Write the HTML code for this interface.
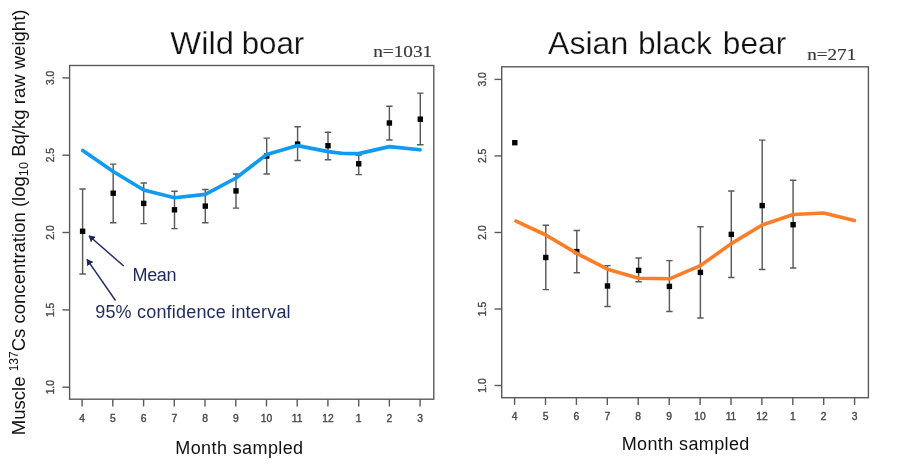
<!DOCTYPE html>
<html><head><meta charset="utf-8"><title>Cs-137 concentration by month</title>
<style>
html,body{margin:0;padding:0;background:#fff;}
body{width:900px;height:470px;overflow:hidden;}
svg{display:block;filter:blur(0.35px);font-family:"Liberation Sans",sans-serif;}
.tk{font-size:10.3px;fill:#464646;stroke:#464646;stroke-width:0.36px;}
.ttl{font-size:32px;fill:#111;stroke:#fff;stroke-width:0.25px;}
.n{font-family:"Liberation Serif",serif;font-size:16.6px;fill:#383838;stroke:#383838;stroke-width:0.15px;}
.ax{font-size:18px;fill:#111;}
.an{font-size:18px;fill:#1f2a5e;}
</style></head><body>
<svg width="900" height="470" viewBox="0 0 900 470">
<rect width="900" height="470" fill="#fff"/>
<defs><marker id="ah" viewBox="0 0 6.2 7.4" refX="5.7" refY="3.7" markerWidth="6.2" markerHeight="7.4" markerUnits="userSpaceOnUse" orient="auto"><path d="M0 0L6.2 3.7L0 7.4z" fill="#1c2660"/></marker></defs>

<!-- y label -->
<text transform="translate(24.8 435.2) rotate(-90)" font-size="18.55" fill="#111">Muscle <tspan font-size="12" dy="-7">137</tspan><tspan dy="7">Cs concentration (log</tspan><tspan font-size="12.8" dy="3.6">10</tspan><tspan dy="-3.6"> Bq/kg raw weight)</tspan></text>

<!-- plot 1 -->
<text y="53.5" class="ttl"><tspan x="170.3" textLength="63.7" lengthAdjust="spacingAndGlyphs">Wild</tspan> <tspan x="241.7" textLength="62.6" lengthAdjust="spacingAndGlyphs">boar</tspan></text>
<text x="373.2" y="57.3" class="n" textLength="59" lengthAdjust="spacingAndGlyphs">n=1031</text>
<rect x="69.6" y="65.5" width="364.2" height="333.7" fill="none" stroke="#5a5a5a" stroke-width="1.4"/>
<path d="M69.6 77.9h-7.2" stroke="#5a5a5a" stroke-width="1.4"/>
<text transform="translate(54.0 77.9) rotate(-90)" text-anchor="middle" class="tk">3.0</text>
<path d="M69.6 155.2h-7.2" stroke="#5a5a5a" stroke-width="1.4"/>
<text transform="translate(54.0 155.2) rotate(-90)" text-anchor="middle" class="tk">2.5</text>
<path d="M69.6 232.5h-7.2" stroke="#5a5a5a" stroke-width="1.4"/>
<text transform="translate(54.0 232.5) rotate(-90)" text-anchor="middle" class="tk">2.0</text>
<path d="M69.6 309.9h-7.2" stroke="#5a5a5a" stroke-width="1.4"/>
<text transform="translate(54.0 309.9) rotate(-90)" text-anchor="middle" class="tk">1.5</text>
<path d="M69.6 387.2h-7.2" stroke="#5a5a5a" stroke-width="1.4"/>
<text transform="translate(54.0 387.2) rotate(-90)" text-anchor="middle" class="tk">1.0</text>
<path d="M82.1 399.2v7.2" stroke="#5a5a5a" stroke-width="1.4"/>
<text x="82.1" y="422.0" text-anchor="middle" class="tk">4</text>
<path d="M112.8 399.2v7.2" stroke="#5a5a5a" stroke-width="1.4"/>
<text x="112.8" y="422.0" text-anchor="middle" class="tk">5</text>
<path d="M143.6 399.2v7.2" stroke="#5a5a5a" stroke-width="1.4"/>
<text x="143.6" y="422.0" text-anchor="middle" class="tk">6</text>
<path d="M174.3 399.2v7.2" stroke="#5a5a5a" stroke-width="1.4"/>
<text x="174.3" y="422.0" text-anchor="middle" class="tk">7</text>
<path d="M205.0 399.2v7.2" stroke="#5a5a5a" stroke-width="1.4"/>
<text x="205.0" y="422.0" text-anchor="middle" class="tk">8</text>
<path d="M235.8 399.2v7.2" stroke="#5a5a5a" stroke-width="1.4"/>
<text x="235.8" y="422.0" text-anchor="middle" class="tk">9</text>
<path d="M266.5 399.2v7.2" stroke="#5a5a5a" stroke-width="1.4"/>
<text x="266.5" y="422.0" text-anchor="middle" class="tk">10</text>
<path d="M297.2 399.2v7.2" stroke="#5a5a5a" stroke-width="1.4"/>
<text x="297.2" y="422.0" text-anchor="middle" class="tk">11</text>
<path d="M327.9 399.2v7.2" stroke="#5a5a5a" stroke-width="1.4"/>
<text x="327.9" y="422.0" text-anchor="middle" class="tk">12</text>
<path d="M358.7 399.2v7.2" stroke="#5a5a5a" stroke-width="1.4"/>
<text x="358.7" y="422.0" text-anchor="middle" class="tk">1</text>
<path d="M389.4 399.2v7.2" stroke="#5a5a5a" stroke-width="1.4"/>
<text x="389.4" y="422.0" text-anchor="middle" class="tk">2</text>
<path d="M420.1 399.2v7.2" stroke="#5a5a5a" stroke-width="1.4"/>
<text x="420.1" y="422.0" text-anchor="middle" class="tk">3</text>
<path d="M82.6 189V274M79.4 189H85.8M79.4 274H85.8" stroke="#5a5a5a" stroke-width="1.45" fill="none"/>
<rect x="79.9" y="228.6" width="5.4" height="5.4" fill="#000"/>
<path d="M113.2 164.1V222.8M110.0 164.1H116.4M110.0 222.8H116.4" stroke="#5a5a5a" stroke-width="1.45" fill="none"/>
<rect x="110.5" y="190.5" width="5.4" height="5.4" fill="#000"/>
<path d="M143.7 183.0V223.6M140.5 183.0H146.9M140.5 223.6H146.9" stroke="#5a5a5a" stroke-width="1.45" fill="none"/>
<rect x="141.0" y="200.7" width="5.4" height="5.4" fill="#000"/>
<path d="M174.5 191.3V228.6M171.3 191.3H177.7M171.3 228.6H177.7" stroke="#5a5a5a" stroke-width="1.45" fill="none"/>
<rect x="171.8" y="207.1" width="5.4" height="5.4" fill="#000"/>
<path d="M205.3 189.5V222.7M202.1 189.5H208.5M202.1 222.7H208.5" stroke="#5a5a5a" stroke-width="1.45" fill="none"/>
<rect x="202.6" y="203.4" width="5.4" height="5.4" fill="#000"/>
<path d="M236.0 173.9V208.1M232.8 173.9H239.2M232.8 208.1H239.2" stroke="#5a5a5a" stroke-width="1.45" fill="none"/>
<rect x="233.3" y="188.2" width="5.4" height="5.4" fill="#000"/>
<path d="M266.7 138.1V173.9M263.5 138.1H269.9M263.5 173.9H269.9" stroke="#5a5a5a" stroke-width="1.45" fill="none"/>
<rect x="264.0" y="153.3" width="5.4" height="5.4" fill="#000"/>
<path d="M297.6 126.8V160.5M294.4 126.8H300.8M294.4 160.5H300.8" stroke="#5a5a5a" stroke-width="1.45" fill="none"/>
<rect x="294.9" y="141.4" width="5.4" height="5.4" fill="#000"/>
<path d="M328.0 132.3V159.7M324.8 132.3H331.2M324.8 159.7H331.2" stroke="#5a5a5a" stroke-width="1.45" fill="none"/>
<rect x="325.3" y="143.0" width="5.4" height="5.4" fill="#000"/>
<path d="M358.7 154.9V174.6M355.5 154.9H361.9M355.5 174.6H361.9" stroke="#5a5a5a" stroke-width="1.45" fill="none"/>
<rect x="356.0" y="161.1" width="5.4" height="5.4" fill="#000"/>
<path d="M389.4 106.3V140M386.2 106.3H392.6M386.2 140H392.6" stroke="#5a5a5a" stroke-width="1.45" fill="none"/>
<rect x="386.7" y="120.3" width="5.4" height="5.4" fill="#000"/>
<path d="M420.3 93.1V144.8M417.1 93.1H423.5M417.1 144.8H423.5" stroke="#5a5a5a" stroke-width="1.45" fill="none"/>
<rect x="417.6" y="116.5" width="5.4" height="5.4" fill="#000"/>
<path d="M82.7 150.5 L113.2 171.5 L143.7 190.0 L174.5 197.7 L205.3 194.4 L236 178 L266.7 154.5 L297.6 145.6 L328 151.6 L343.5 153.5 L358.7 153.6 L389.4 146.6 L420 149.8" fill="none" stroke="#0f9bf3" stroke-width="3.65" stroke-linejoin="round" stroke-linecap="round"/>
<path d="M123.7 266L89 235.8" stroke="#232e62" stroke-width="1.5" marker-end="url(#ah)"/>
<path d="M115.5 300.5L87 259.4" stroke="#232e62" stroke-width="1.5" marker-end="url(#ah)"/>
<text x="132.6" y="280.8" class="an" textLength="43.8">Mean</text>
<text x="95.2" y="317.9" class="an" textLength="195.4">95% confidence interval</text>
<text x="175.3" y="453.8" class="ax" textLength="127.8">Month sampled</text>

<!-- plot 2 -->
<text y="54" class="ttl"><tspan x="548.1" textLength="80.1" lengthAdjust="spacingAndGlyphs">Asian</tspan> <tspan x="638" textLength="73.8" lengthAdjust="spacingAndGlyphs">black</tspan> <tspan x="722.8" textLength="63.4" lengthAdjust="spacingAndGlyphs">bear</tspan></text>
<text x="807.2" y="59.8" class="n" textLength="49" lengthAdjust="spacingAndGlyphs">n=271</text>
<rect x="501.7" y="66.8" width="366.7" height="330.9" fill="none" stroke="#5a5a5a" stroke-width="1.4"/>
<path d="M501.7 79.4h-7.2" stroke="#5a5a5a" stroke-width="1.4"/>
<text transform="translate(485.8 79.4) rotate(-90)" text-anchor="middle" class="tk">3.0</text>
<path d="M501.7 155.9h-7.2" stroke="#5a5a5a" stroke-width="1.4"/>
<text transform="translate(485.8 155.9) rotate(-90)" text-anchor="middle" class="tk">2.5</text>
<path d="M501.7 232.5h-7.2" stroke="#5a5a5a" stroke-width="1.4"/>
<text transform="translate(485.8 232.5) rotate(-90)" text-anchor="middle" class="tk">2.0</text>
<path d="M501.7 309.0h-7.2" stroke="#5a5a5a" stroke-width="1.4"/>
<text transform="translate(485.8 309.0) rotate(-90)" text-anchor="middle" class="tk">1.5</text>
<path d="M501.7 385.5h-7.2" stroke="#5a5a5a" stroke-width="1.4"/>
<text transform="translate(485.8 385.5) rotate(-90)" text-anchor="middle" class="tk">1.0</text>
<path d="M514.6 397.7v7.2" stroke="#5a5a5a" stroke-width="1.4"/>
<text x="514.6" y="420.2" text-anchor="middle" class="tk">4</text>
<path d="M545.5 397.7v7.2" stroke="#5a5a5a" stroke-width="1.4"/>
<text x="545.5" y="420.2" text-anchor="middle" class="tk">5</text>
<path d="M576.4 397.7v7.2" stroke="#5a5a5a" stroke-width="1.4"/>
<text x="576.4" y="420.2" text-anchor="middle" class="tk">6</text>
<path d="M607.3 397.7v7.2" stroke="#5a5a5a" stroke-width="1.4"/>
<text x="607.3" y="420.2" text-anchor="middle" class="tk">7</text>
<path d="M638.2 397.7v7.2" stroke="#5a5a5a" stroke-width="1.4"/>
<text x="638.2" y="420.2" text-anchor="middle" class="tk">8</text>
<path d="M669.2 397.7v7.2" stroke="#5a5a5a" stroke-width="1.4"/>
<text x="669.2" y="420.2" text-anchor="middle" class="tk">9</text>
<path d="M700.1 397.7v7.2" stroke="#5a5a5a" stroke-width="1.4"/>
<text x="700.1" y="420.2" text-anchor="middle" class="tk">10</text>
<path d="M731.0 397.7v7.2" stroke="#5a5a5a" stroke-width="1.4"/>
<text x="731.0" y="420.2" text-anchor="middle" class="tk">11</text>
<path d="M761.9 397.7v7.2" stroke="#5a5a5a" stroke-width="1.4"/>
<text x="761.9" y="420.2" text-anchor="middle" class="tk">12</text>
<path d="M792.8 397.7v7.2" stroke="#5a5a5a" stroke-width="1.4"/>
<text x="792.8" y="420.2" text-anchor="middle" class="tk">1</text>
<path d="M823.7 397.7v7.2" stroke="#5a5a5a" stroke-width="1.4"/>
<text x="823.7" y="420.2" text-anchor="middle" class="tk">2</text>
<path d="M854.6 397.7v7.2" stroke="#5a5a5a" stroke-width="1.4"/>
<text x="854.6" y="420.2" text-anchor="middle" class="tk">3</text>
<rect x="512.1" y="140.0" width="5.4" height="5.4" fill="#000"/>
<path d="M545.8 225.3V289.6M542.6 225.3H549.0M542.6 289.6H549.0" stroke="#5a5a5a" stroke-width="1.45" fill="none"/>
<rect x="543.1" y="254.8" width="5.4" height="5.4" fill="#000"/>
<path d="M576.8 230.5V272.8M573.6 230.5H580.0M573.6 272.8H580.0" stroke="#5a5a5a" stroke-width="1.45" fill="none"/>
<rect x="574.1" y="248.9" width="5.4" height="5.4" fill="#000"/>
<path d="M607.5 265.6V306.5M604.3 265.6H610.7M604.3 306.5H610.7" stroke="#5a5a5a" stroke-width="1.45" fill="none"/>
<rect x="604.8" y="283.3" width="5.4" height="5.4" fill="#000"/>
<path d="M638.6 258V281.8M635.4 258H641.8M635.4 281.8H641.8" stroke="#5a5a5a" stroke-width="1.45" fill="none"/>
<rect x="635.9" y="267.7" width="5.4" height="5.4" fill="#000"/>
<path d="M669.4 260.6V311.4M666.2 260.6H672.6M666.2 311.4H672.6" stroke="#5a5a5a" stroke-width="1.45" fill="none"/>
<rect x="666.7" y="283.7" width="5.4" height="5.4" fill="#000"/>
<path d="M700.4 226.8V318M697.2 226.8H703.6M697.2 318H703.6" stroke="#5a5a5a" stroke-width="1.45" fill="none"/>
<rect x="697.7" y="269.7" width="5.4" height="5.4" fill="#000"/>
<path d="M731.3 191V277.4M728.1 191H734.5M728.1 277.4H734.5" stroke="#5a5a5a" stroke-width="1.45" fill="none"/>
<rect x="728.6" y="231.7" width="5.4" height="5.4" fill="#000"/>
<path d="M762.2 140.1V269.4M759.0 140.1H765.4M759.0 269.4H765.4" stroke="#5a5a5a" stroke-width="1.45" fill="none"/>
<rect x="759.5" y="202.9" width="5.4" height="5.4" fill="#000"/>
<path d="M793.1 180.2V268M789.9 180.2H796.3M789.9 268H796.3" stroke="#5a5a5a" stroke-width="1.45" fill="none"/>
<rect x="790.4" y="222.0" width="5.4" height="5.4" fill="#000"/>
<path d="M516 221.1 L545.8 235 L576.8 253.4 L607.5 269.2 L638.6 278.3 L669.4 278.8 L700.4 265.6 L731.3 243.6 L762.2 225 L793.1 214.5 L823.6 213 L854.4 220.6" fill="none" stroke="#fe7d26" stroke-width="3.6" stroke-linejoin="round" stroke-linecap="round"/>
<text x="621.7" y="449.7" class="ax" textLength="127.6">Month sampled</text>
</svg>
</body></html>
